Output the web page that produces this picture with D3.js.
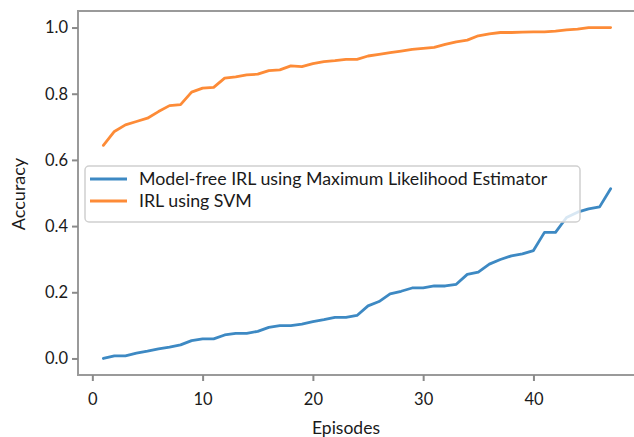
<!DOCTYPE html>
<html>
<head>
<meta charset="utf-8">
<script src="https://cdn.jsdelivr.net/npm/d3@7"></script>
<style>
  body { margin: 0; background: #fff; }
  text { font-family: Lato, "Open Sans", sans-serif; fill: #1a1a1a; }
</style>
</head>
<body>
<svg id="chart" width="634" height="437"></svg>
<script>
// episodes 1..47
const episodes = d3.range(1, 48);

// Model-free IRL using Maximum Likelihood Estimator
const mleAccuracy = [
  0.000, 0.008, 0.008, 0.016, 0.022, 0.029, 0.034, 0.041, 0.054, 0.059,
  0.059, 0.071, 0.076, 0.076, 0.082, 0.094, 0.099, 0.099, 0.104, 0.111,
  0.117, 0.124, 0.124, 0.130, 0.159, 0.172, 0.195, 0.203, 0.213, 0.213,
  0.219, 0.219, 0.224, 0.254, 0.261, 0.285, 0.299, 0.310, 0.316, 0.326,
  0.381, 0.381, 0.426, 0.442, 0.452, 0.458, 0.513
];

// IRL using SVM
const svmAccuracy = [
  0.644, 0.686, 0.706, 0.716, 0.726, 0.746, 0.764, 0.767, 0.805, 0.817,
  0.819, 0.847, 0.851, 0.857, 0.859, 0.870, 0.872, 0.884, 0.882, 0.891,
  0.897, 0.900, 0.904, 0.904, 0.914, 0.919, 0.924, 0.929, 0.934, 0.937,
  0.940, 0.949, 0.957, 0.962, 0.975, 0.981, 0.985, 0.985, 0.986, 0.987,
  0.987, 0.989, 0.993, 0.995, 1.000, 1.000, 1.000
];

const xTicks = [0, 10, 20, 30, 40];
const yTicks = [0.0, 0.2, 0.4, 0.6, 0.8, 1.0];
const seriesNames = ["Model-free IRL using Maximum Likelihood Estimator", "IRL using SVM"];
const colors = ["#3d89c3", "#fd8b37"];

const svg = d3.select("#chart");
const plotLeft = 78, plotRight = 636, plotTop = 11, plotBottom = 375;

const x = d3.scaleLinear().domain([-1.3, 49.3]).range([plotLeft, plotRight]);
const y = d3.scaleLinear().domain([-0.05, 1.05]).range([plotBottom, plotTop]);

// frame
svg.append("rect")
  .attr("x", plotLeft).attr("y", plotTop)
  .attr("width", plotRight - plotLeft).attr("height", plotBottom - plotTop)
  .attr("fill", "none").attr("stroke", "#9a9a9a").attr("stroke-width", 2);

// axes
const xAxis = svg.append("g")
  .attr("transform", `translate(0,${plotBottom})`)
  .call(d3.axisBottom(x).tickValues(xTicks).tickSize(6).tickPadding(12).tickFormat(d3.format("d")));
const yAxis = svg.append("g")
  .attr("transform", `translate(${plotLeft},0)`)
  .call(d3.axisLeft(y).tickValues(yTicks).tickSize(6).tickPadding(4).tickFormat(d3.format(".1f")));

[xAxis, yAxis].forEach(g => {
  g.select(".domain").remove();
  g.selectAll(".tick line").attr("stroke", "#8a8a8a").attr("stroke-width", 2);
  g.selectAll(".tick text").style("font-size", "16.5px").style("font-family", "Lato, sans-serif").attr("fill", "#1a1a1a");
});

// lines
const line = d3.line().x((d, i) => x(episodes[i])).y(d => y(d));
[mleAccuracy, svmAccuracy].forEach((vals, i) => {
  svg.append("path")
    .datum(vals)
    .attr("d", line)
    .attr("fill", "none")
    .attr("stroke", colors[i])
    .attr("stroke-width", 2.8)
    .attr("stroke-linejoin", "round")
    .attr("stroke-linecap", "round");
});

// axis labels
svg.append("text")
  .attr("x", 346).attr("y", 434)
  .attr("text-anchor", "middle")
  .style("font-size", "17.5px")
  .text("Episodes");

svg.append("text")
  .attr("transform", `translate(25,194) rotate(-90)`)
  .attr("text-anchor", "middle")
  .style("font-size", "18px")
  .text("Accuracy");

// legend
const legend = svg.append("g");
legend.append("rect")
  .attr("x", 85).attr("y", 166).attr("width", 495).attr("height", 56)
  .attr("rx", 4)
  .attr("fill", "#fff").attr("fill-opacity", 0.8)
  .attr("stroke", "#d0d0d0").attr("stroke-width", 1.5);

seriesNames.forEach((name, i) => {
  const ly = 179 + i * 22;
  legend.append("line")
    .attr("x1", 90).attr("x2", 127).attr("y1", ly).attr("y2", ly)
    .attr("stroke", colors[i]).attr("stroke-width", 2.8);
  legend.append("text")
    .attr("x", 139).attr("y", ly + 6)
    .style("font-size", "17.8px")
    .text(name);
});
</script>
</body>
</html>
